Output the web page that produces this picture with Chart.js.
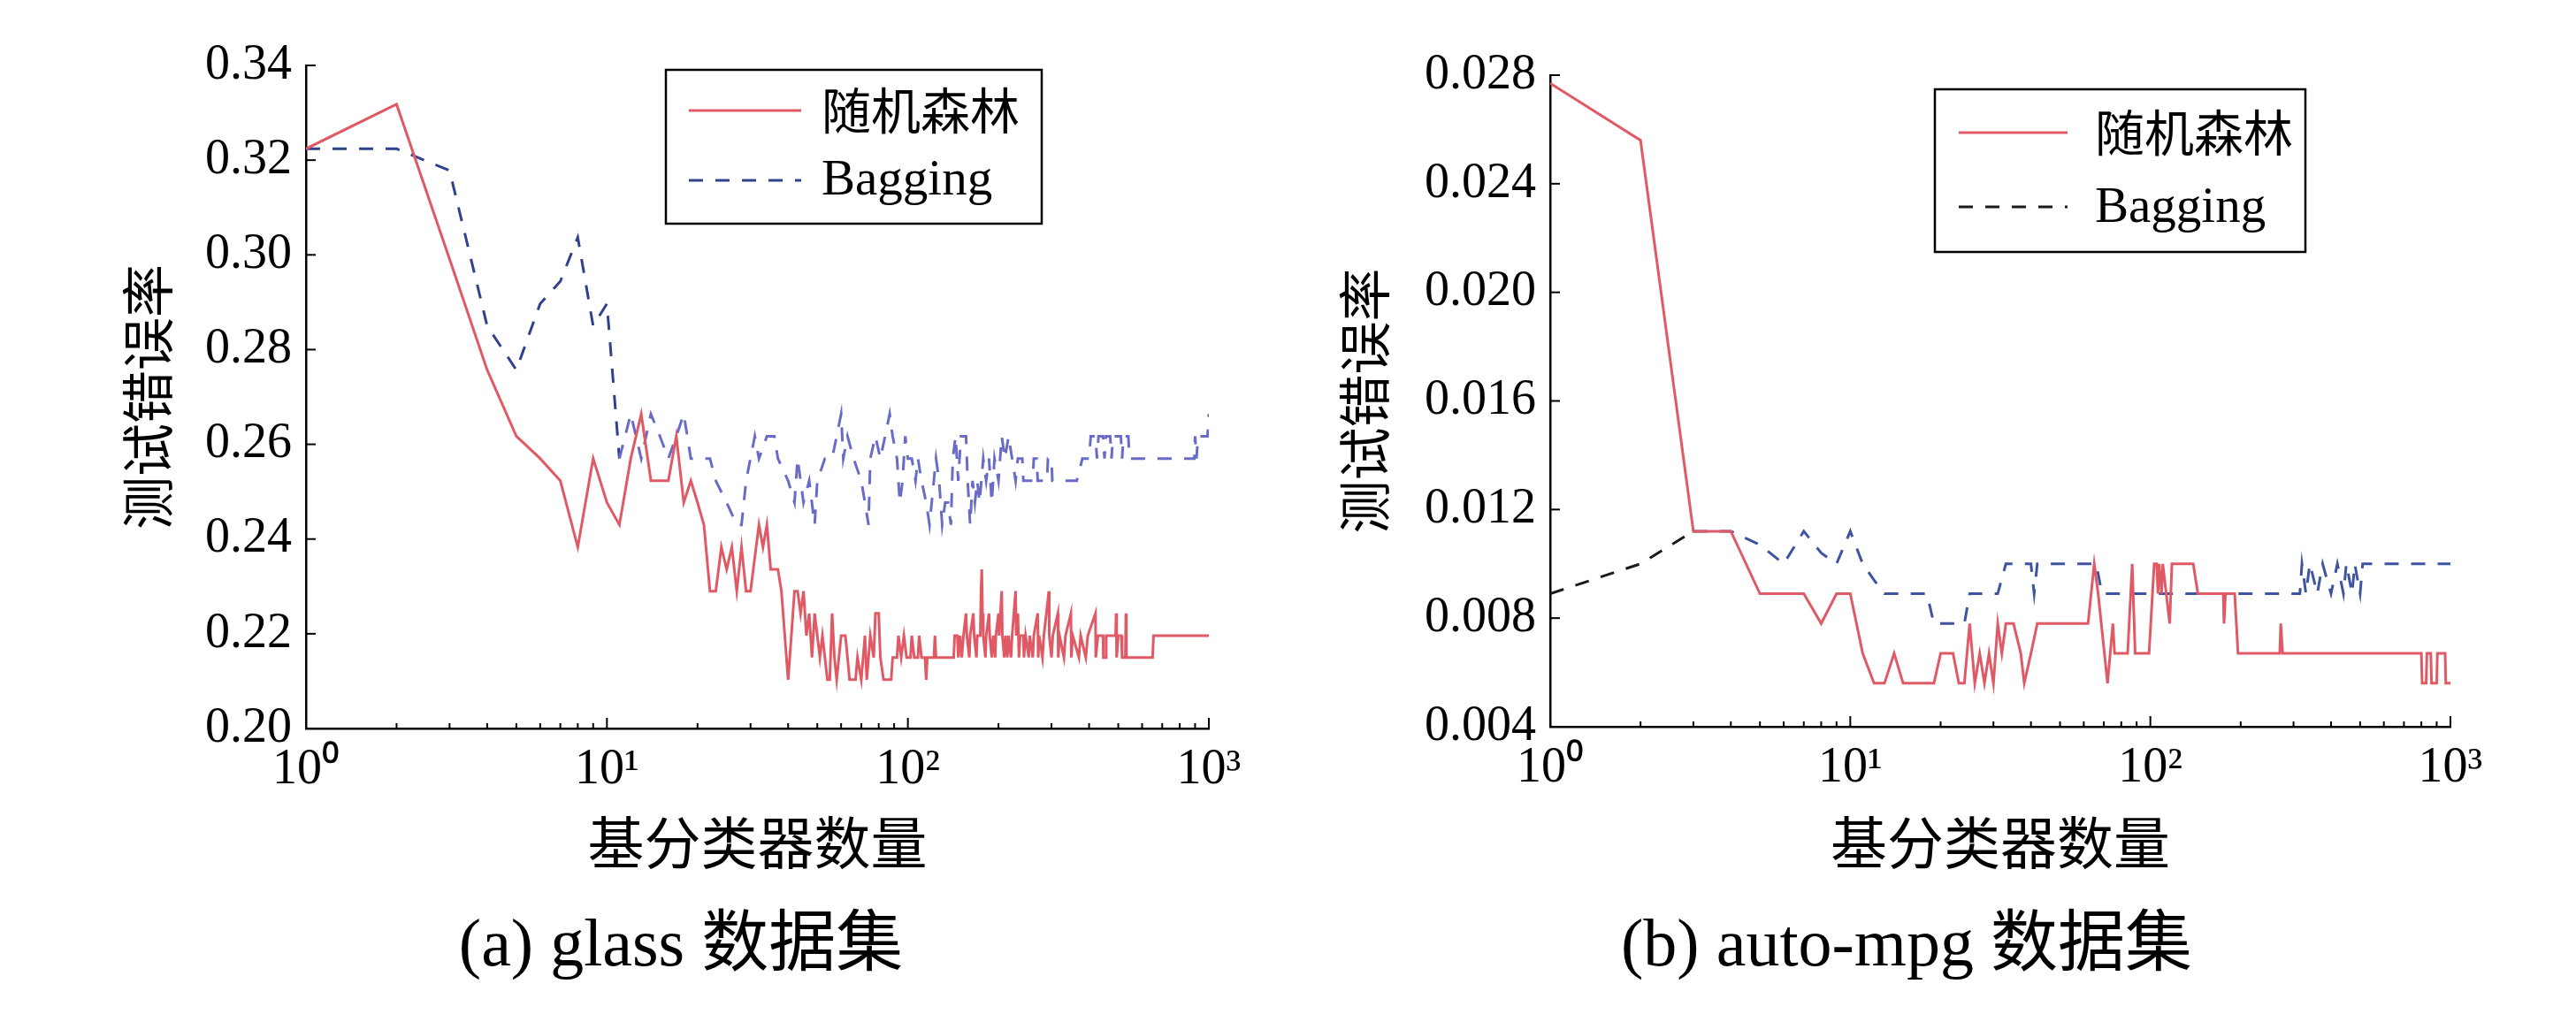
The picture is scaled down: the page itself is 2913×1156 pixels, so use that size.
<!DOCTYPE html>
<html>
<head>
<meta charset="utf-8">
<script src="https://cdn.jsdelivr.net/npm/chart.js@4.4.1/dist/chart.umd.min.js"></script>
<style>
  html, body { margin: 0; padding: 0; background: #fff; }
  #wrap { position: relative; width: 2913px; height: 1156px; }
  canvas { position: absolute; top: 0; }
  #c1 { left: 0; }
  #c2 { left: 1456px; }
</style>
</head>
<body>
<div id="wrap">
  <canvas id="c1" width="1456" height="1156"></canvas>
  <canvas id="c2" width="1457" height="1156"></canvas>
</div>
<script>
// (a) glass - random forest
const glassRfX = [1,2,3,4,5,6,7,8,9,10, 11,12,13,14,16,17,18,19,20,21, 22,23,24,25,26,27,28,29,30,32,
  33,34,35,37,38,40,41,42,43,44, 45,46,47,48,49,50,51,52,53,54, 55,56,57,58,59,60,62,63,64,67,
  68,70,72,73,75,77,78,80,81,83, 88,89,92,93,95,97,99,102,103,105, 108,109,111,114,115,116,122,123,124,142,
  143,146,147,149,151,153,156,157,160,161, 165,166,169,170,174,175,176,177,178,181, 182,186,187,190,192,195,196,200,201,205,
  206,209,211,214,216,220,222,228,229,232, 234,236,242,243,246,252,254,260,262,270, 271,273,280,283,294,295,300,303,315,316,
  319,330,334,348,349,353,370,375,390,396, 420,421,428,445,446,455,456,490,492,494, 500,512,515,528,530,532,650,655,1000];
const glassRfY = [.3224,.3318,.2991,.2757,.2617,.2570,.2523,.2383,.2570,.2477, .2430,.2570,.2664,.2523,.2523,.2617,.2477,.2523,.2477,.2430,
  .2290,.2290,.2383,.2336,.2383,.2290,.2383,.2290,.2290,.2430, .2383,.2430,.2336,.2336,.2290,.2103,.2196,.2290,.2290,.2243,
  .2290,.2196,.2243,.2150,.2243,.2196,.2150,.2196,.2150,.2103, .2103,.2243,.2150,.2103,.2150,.2196,.2196,.2150,.2103,.2103,
  .2150,.2103,.2196,.2103,.2196,.2150,.2243,.2243,.2150,.2103, .2103,.2150,.2150,.2196,.2150,.2196,.2150,.2150,.2196,.2150,
  .2150,.2196,.2150,.2150,.2103,.2150,.2150,.2196,.2150,.2150, .2196,.2196,.2150,.2196,.2150,.2196,.2243,.2196,.2150,.2196,
  .2243,.2196,.2150,.2196,.2196,.2290,.2336,.2243,.2196,.2150, .2196,.2243,.2196,.2150,.2196,.2150,.2196,.2243,.2196,.2290,
  .2196,.2150,.2196,.2150,.2196,.2150,.2196,.2290,.2196,.2243, .2150,.2196,.2196,.2150,.2196,.2150,.2196,.2150,.2196,.2243,
  .2150,.2196,.2150,.2196,.2290,.2196,.2150,.2196,.2243,.2150, .2196,.2150,.2196,.2243,.2150,.2196,.2150,.2196,.2150,.2196,
  .2243,.2150,.2196,.2196,.2150,.2150,.2196,.2196,.2243,.2150, .2196,.2196,.2150,.2150,.2243,.2150,.2150,.2196,.2196];
// (a) glass - bagging
const glassBagX = [1,2,3,4,5,6,7,8,9,10, 11,12,13,14,15,16,17,18,19,22, 23,25,27,28,29,31,32,34,36,37,
  40,42,43,45,47,49,50,53,56,58, 60,61,63,66,70,72,74,75,78,81, 84,87,89,92,94,96,98,100,103,106,
  108,111,115,118,120,124,127,130,133,136, 139,141,144,147,150,156,158,161,164,167, 170,173,178,182,186,190,194,200,205,210,
  216,222,228,232,240,242,260,262,268,270, 290,292,300,302,364,380,400,405,420,425, 430,445,450,455,470,475,480,510,515,520,
  540,545,700,895,900,910,920,990,1000];
const glassBagY = [.3224,.3224,.3178,.2850,.2757,.2897,.2944,.3037,.2850,.2897, .2570,.2664,.2570,.2664,.2617,.2570,.2617,.2664,.2570,.2570,
  .2523,.2477,.2430,.2430,.2523,.2617,.2570,.2617,.2617,.2570, .2523,.2477,.2570,.2477,.2523,.2430,.2523,.2570,.2570,.2617,
  .2664,.2570,.2617,.2570,.2523,.2477,.2430,.2570,.2617,.2570, .2617,.2664,.2617,.2570,.2477,.2523,.2617,.2570,.2570,.2523,
  .2570,.2523,.2477,.2430,.2477,.2570,.2523,.2430,.2477,.2477, .2430,.2570,.2617,.2523,.2617,.2617,.2523,.2430,.2523,.2477,
  .2523,.2477,.2570,.2523,.2570,.2477,.2570,.2523,.2617,.2570, .2617,.2570,.2523,.2570,.2570,.2523,.2523,.2570,.2570,.2523,
  .2523,.2570,.2570,.2523,.2523,.2570,.2570,.2617,.2617,.2570, .2617,.2617,.2570,.2617,.2617,.2570,.2617,.2617,.2570,.2617,
  .2617,.2570,.2570,.2570,.2617,.2570,.2617,.2617,.2664];

// (b) auto-mpg - random forest
const mpgRfX = [1,2,3,4,5,7,8,9,10,11, 12,13,14,15,19,20,22,23,24,25, 26,27,28,29,30,31,32,33,35,37,
  38,40,42,62,65,67,72,75,76,84, 87,89,99,103,105,106,107,109,110,116, 118,139,144,175,176,178,191,196,270,272,
  276,800,805,830,835,860,865,900,905,960, 965,1000];
const mpgRfY = [.0277,.0256,.0112,.0112,.0089,.0089,.0078,.0089,.0089,.0067, .0056,.0056,.0067,.0056,.0056,.0067,.0067,.0056,.0056,.0078,
  .0056,.0067,.0056,.0067,.0056,.0078,.0067,.0078,.0078,.0067, .0056,.0067,.0078,.0078,.0100,.0089,.0056,.0078,.0067,.0067,
  .0100,.0067,.0067,.0100,.0100,.0089,.0100,.0089,.0100,.0078, .0100,.0100,.0089,.0089,.0078,.0089,.0089,.0067,.0067,.0078,
  .0067,.0067,.0056,.0056,.0067,.0067,.0056,.0056,.0067,.0067, .0056,.0056];
// (b) auto-mpg - bagging
const mpgBagX = [1,2,3,4,5,6,7,8,9,10, 11,12,13,18,19,24,25,31,33,40, 41,42,66,69,315,320,330,340,360,375,
  400,420,440,450,470,480,500,510,1000];
const mpgBagY = [.0089,.0100,.0112,.0112,.0107,.0100,.0112,.0104,.0100,.0112, .0100,.0094,.0089,.0089,.0078,.0078,.0089,.0089,.0100,.0100,
  .0089,.0100,.0100,.0089,.0089,.0100,.0089,.0100,.0089,.0100, .0089,.0100,.0089,.0100,.0089,.0100,.0089,.0100,.0100];

const seriesNames = ['随机森林', 'Bagging'];
const xTickVals = [1, 10, 100, 1000];
const xTickLabels = ['10⁰', '10¹', '10²', '10³'];
const glassYTicks = [0.20, 0.22, 0.24, 0.26, 0.28, 0.30, 0.32, 0.34];
const glassYLabels = ['0.20', '0.22', '0.24', '0.26', '0.28', '0.30', '0.32', '0.34'];
const mpgYTicks = [0.004, 0.008, 0.012, 0.016, 0.020, 0.024, 0.028];
const mpgYLabels = ['0.004', '0.008', '0.012', '0.016', '0.020', '0.024', '0.028'];

const SERIF = '"Liberation Serif", "Times New Roman", serif';
const CJK = '"Noto Sans CJK SC", sans-serif';
const RED = 'rgb(224, 90, 102)';
const DASH = [16, 14];

function pts(xs, ys) {
  return xs.map((x, i) => ({ x: x, y: ys[i] }));
}

// inward ticks, boxed legend and the caption under each panel
const deco = {
  id: 'deco',
  afterDraw(chart, args, o) {
    const ctx = chart.ctx;
    const xs = chart.scales.x, ys = chart.scales.y;
    const a = chart.chartArea;
    ctx.save();
    ctx.strokeStyle = '#000';
    ctx.lineWidth = 2;
    for (let d = 1; d <= 1000; d *= 10) {
      for (let m = 1; m < 10; m++) {
        const v = d * m;
        if (v > 1000) break;
        const px = xs.getPixelForValue(v);
        ctx.beginPath();
        ctx.moveTo(px, a.bottom);
        ctx.lineTo(px, a.bottom - (m === 1 ? 12 : 6));
        ctx.stroke();
      }
    }
    ys.ticks.forEach(t => {
      const py = ys.getPixelForValue(t.value);
      ctx.beginPath();
      ctx.moveTo(a.left, py);
      ctx.lineTo(a.left + 11, py);
      ctx.stroke();
    });

    const L = o.legend;
    ctx.lineWidth = 2.5;
    ctx.strokeRect(L.x, L.y, L.w, L.h);
    ctx.lineWidth = 3;
    ctx.strokeStyle = RED;
    ctx.beginPath();
    ctx.moveTo(L.sx0, L.y1);
    ctx.lineTo(L.sx1, L.y1);
    ctx.stroke();
    ctx.strokeStyle = L.bagColor;
    ctx.setLineDash(DASH);
    ctx.beginPath();
    ctx.moveTo(L.sx0, L.y2);
    ctx.lineTo(L.sx1, L.y2);
    ctx.stroke();
    ctx.setLineDash([]);
    ctx.fillStyle = '#000';
    ctx.textAlign = 'left';
    ctx.textBaseline = 'middle';
    ctx.font = '56px ' + CJK;
    ctx.fillText(seriesNames[0], L.tx, L.y1);
    ctx.textBaseline = 'alphabetic';
    ctx.font = '57px ' + SERIF;
    ctx.fillText(seriesNames[1], L.tx, L.b2);

    ctx.textAlign = 'center';
    ctx.font = '76px ' + SERIF + ', ' + CJK;
    ctx.fillText(o.caption.text, o.caption.x, o.caption.y);
    ctx.restore();
  }
};

function makeChart(id, p) {
  return new Chart(document.getElementById(id), {
    type: 'line',
    data: {
      datasets: [
        {
          label: seriesNames[0],
          data: pts(p.rfX, p.rfY),
          borderColor: RED,
          borderWidth: 3,
          pointRadius: 0,
          tension: 0,
        },
        {
          label: seriesNames[1],
          data: pts(p.bagX, p.bagY),
          borderColor: p.bagEarly,
          borderWidth: 3,
          borderDash: DASH,
          pointRadius: 0,
          tension: 0,
          segment: {
            borderColor: c => (c.p0.parsed.x < p.split ? p.bagEarly : p.bagLate),
          },
        },
      ],
    },
    plugins: [deco],
    options: {
      responsive: false,
      animation: false,
      events: [],
      layout: { padding: { left: 0, top: p.top, right: p.right, bottom: p.bottom } },
      plugins: {
        legend: { display: false },
        tooltip: { enabled: false },
        deco: { legend: p.legend, caption: p.caption },
      },
      scales: {
        x: {
          type: 'logarithmic',
          min: 1,
          max: 1000,
          afterBuildTicks: s => { s.ticks = xTickVals.map(v => ({ value: v })); },
          afterFit: s => { s.height = 200; },
          grid: { display: false, drawTicks: false },
          border: { color: '#000', width: 2.5 },
          ticks: {
            autoSkip: false,
            maxRotation: 0,
            padding: 14,
            color: '#000',
            font: { family: SERIF, size: 56 },
            callback: (v, i) => xTickLabels[i],
          },
          title: {
            display: true,
            text: '基分类器数量',
            color: '#000',
            font: { family: CJK, size: 64 },
            padding: { top: 0, bottom: p.xTitleBottom },
          },
        },
        y: {
          min: p.yTicks[0],
          max: p.yTicks[p.yTicks.length - 1],
          afterBuildTicks: s => { s.ticks = p.yTicks.map(v => ({ value: v })); },
          afterFit: s => { s.width = p.yWidth; },
          grid: { display: false, drawTicks: false },
          border: { color: '#000', width: 2.5 },
          ticks: {
            padding: 16,
            color: '#000',
            font: { family: SERIF, size: 56 },
            callback: (v, i) => p.yLabels[i],
          },
          title: {
            display: true,
            text: '测试错误率',
            color: '#000',
            font: { family: CJK, size: 60 },
            padding: { top: p.yTitleTop, bottom: 0 },
          },
        },
      },
    },
  });
}

makeChart('c1', {
  rfX: glassRfX, rfY: glassRfY, bagX: glassBagX, bagY: glassBagY,
  bagEarly: 'rgb(48, 66, 140)', bagLate: 'rgb(104, 108, 200)', split: 11,
  yTicks: glassYTicks, yLabels: glassYLabels,
  top: 74, right: 89, bottom: 132, yWidth: 346, yTitleTop: 131, xTitleBottom: 33,
  legend: { x: 753, y: 79, w: 425, h: 174, sx0: 779, sx1: 906, y1: 125, y2: 204, tx: 929, b2: 220,
            bagColor: 'rgb(48, 66, 140)' },
  caption: { text: '(a) glass 数据集', x: 770, y: 1092 },
});

makeChart('c2', {
  rfX: mpgRfX, rfY: mpgRfY, bagX: mpgBagX, bagY: mpgBagY,
  bagEarly: '#1a1a1a', bagLate: 'rgb(62, 84, 160)', split: 3,
  yTicks: mpgYTicks, yLabels: mpgYLabels,
  top: 85, right: 142, bottom: 134, yWidth: 297, yTitleTop: 51, xTitleBottom: 31,
  legend: { x: 732, y: 101, w: 419, h: 184, sx0: 759, sx1: 882, y1: 150, y2: 234, tx: 913, b2: 251,
            bagColor: '#1a1a1a' },
  caption: { text: '(b) auto-mpg 数据集', x: 700, y: 1092 },
});
</script>
</body>
</html>
